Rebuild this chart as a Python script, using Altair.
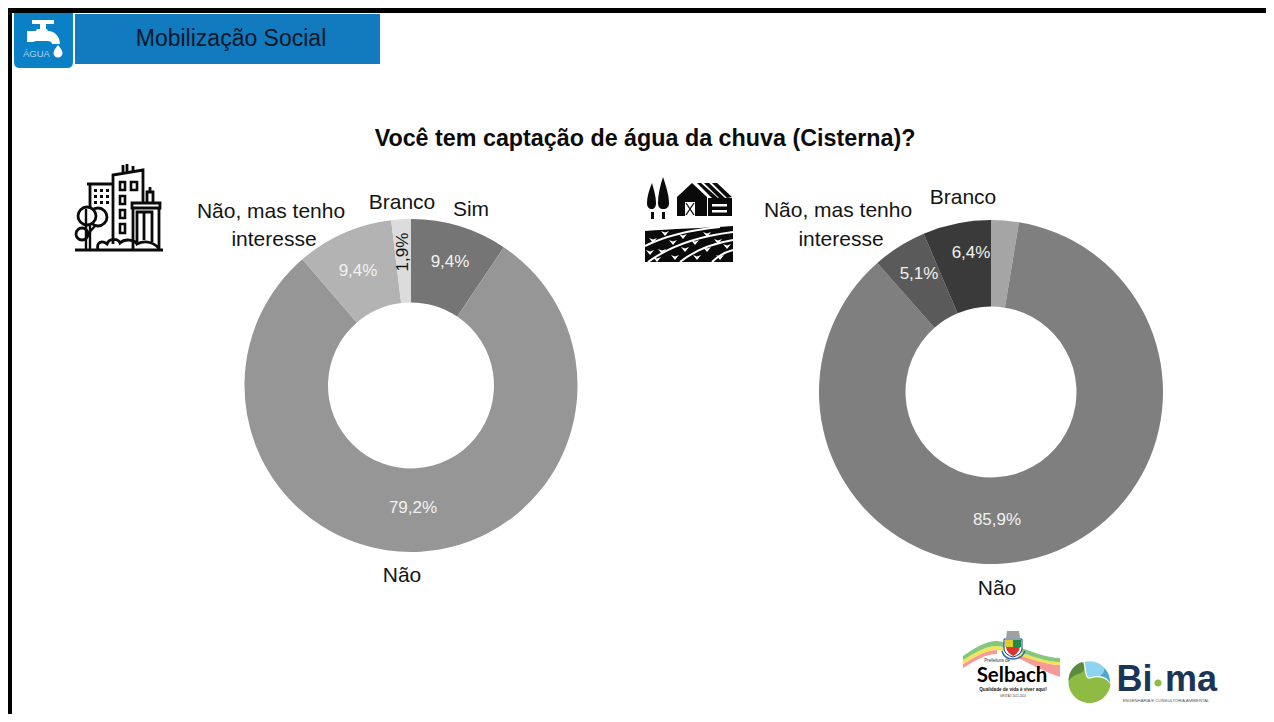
import altair as alt
import pandas as pd

# ---- data ----
CATEGORIES = ["Sim", "Não", "Não, mas tenho interesse", "Branco"]
URBAN_VALUES = [9.4, 79.2, 9.4, 1.9]
RURAL_VALUES = [2.6, 85.9, 5.1, 6.4]
URBAN_COLORS = ["#757575", "#969696", "#b3b3b3", "#dcdcdc"]
RURAL_COLORS = ["#a5a5a5", "#7f7f7f", "#5a5a5a", "#3a3a3a"]
TITLE = "Você tem captação de água da chuva (Cisterna)?"
HEADER = "Mobilização Social"
FONT = "Liberation Sans"
INK = "#141414"

ONE = alt.Data(values=[{"a": 1}])


def pct(v):
    return f"{v:.1f}%".replace(".", ",")


def shape(d, fill=None, stroke=None, sw=1.0):
    """Free-form drawing; path coordinates are page pixels."""
    kw = {"opacity": 1, "strokeWidth": sw, "strokeJoin": "miter"}
    kw["fill"] = fill if fill else "transparent"
    kw["stroke"] = stroke if stroke else "transparent"
    if not stroke:
        kw["strokeWidth"] = 0
    return alt.Chart(ONE).mark_point(shape=d, size=4, filled=True, **kw).encode(
        x=alt.value(-8), y=alt.value(-8)
    )


def label(text, x, y, size=21, color=INK, weight="normal", angle=0, font=FONT, style="normal"):
    return alt.Chart(ONE).mark_text(
        text=text, font=font, fontSize=size, color=color, fontWeight=weight,
        fontStyle=style, angle=angle, align="center", baseline="middle",
    ).encode(x=alt.value(x - 8), y=alt.value(y - 8))


def donut(values, colors, cx, cy, outer, inner):
    df = pd.DataFrame({"cat": CATEGORIES, "value": values, "fill": colors,
                       "order": list(range(len(values)))})
    return alt.Chart(df).mark_arc(outerRadius=outer, innerRadius=inner).encode(
        x=alt.value(cx - 8), y=alt.value(cy - 8),
        theta=alt.Theta("value:Q", stack="normalize"),
        color=alt.Color("fill:N", scale=None),
        order=alt.Order("order:Q"),
    )


def rects(boxes):
    return " ".join(f"M{a} {b}L{c} {b}L{c} {d}L{a} {d}Z" for a, b, c, d in boxes)


def circle(cx, cy, r):
    return f"M{cx-r} {cy}A{r} {r} 0 1 1 {cx+r} {cy}A{r} {r} 0 1 1 {cx-r} {cy}Z"


layers = []

# frame
layers.append(shape(rects([(8, 8, 1266, 13), (8, 8, 12, 714)]), fill="#000000"))

# header
layers.append(shape("M14 13L73 13L73 62Q73 68 67 68L20 68Q14 68 14 62Z", fill="#0a80c6"))
layers.append(shape(rects([(75, 14, 380, 64)]), fill="#127bbf"))
layers.append(label(HEADER, 231, 39, size=23, color="#07182a"))
layers.append(shape(
    rects([(32, 20, 54, 24), (40, 24, 46, 30)])
    + " M27 31L36 31L37 29L47 29L48 31C55 31 60 37 60 44L52 44C52 42 50 41 47 41L36 41L33 42L27 42Z"
    + " M58 45C60 48 62.5 50 62.5 53A4.5 4.5 0 0 1 53.5 53C53.5 50 56 48 58 45Z",
    fill="#ffffff"))
layers.append(label("ÁGUA", 36.5, 53.5, size=9.5, color="#a9d6f0"))

# title
layers.append(label(TITLE, 645, 139, size=23.3, weight="bold", color="#0c0c0c"))

# city icon
CITY = "#0a0a0a"
layers.append(shape(
    "M75 250L163 250 M87 184L113 184 M90 184L90 207 "
    "M113 244L113 175L143 170L143 202 M123 173L123 165 M127 172L127 164 M133 171L133 166 "
    "M133 208L133 250 M159 208L159 250 M132 203L160 203L160 208L132 208Z "
    "M137 242L137 212L152 212L152 242 M144 212L144 240 "
    "M147 202L147 192L153 192L153 202 M150 192L150 187 "
    "M98 250C96 242 102 240 107 244C109 238 118 238 120 243C125 238 135 240 137 244C145 240 155 242 160 250",
    stroke=CITY, sw=2.8))
layers.append(shape(
    rects([(120, 182, 125, 190), (131, 182, 137, 190), (120, 196, 125, 204),
           (120, 210, 125, 218), (120, 224, 125, 233)]),
    stroke=CITY, sw=2.6))
layers.append(shape(
    rects([(x, y, x + 3, y + 3) for x in (94, 100, 106) for y in (189, 195, 201)]),
    fill=CITY))
layers.append(shape(circle(98, 217, 9), fill="#ffffff", stroke=CITY, sw=2.8))
layers.append(shape(circle(87, 216, 9), fill="#ffffff", stroke=CITY, sw=2.8))
layers.append(shape(circle(82, 234, 6), fill="#ffffff", stroke=CITY, sw=2.8))
layers.append(shape("M86 209L86 250 M90 224L90 250 M86 236L95 226", stroke=CITY, sw=2.4))

# farm icon
layers.append(shape(
    "M652 183C649 190 647 197 647 203C647 207 649 209 652 209C654 209 656 207 656 203C656 197 654 190 652 183Z "
    "M663 177C660 186 658 195 658 203C658 207 660 209 663 209C667 209 669 207 669 203C669 195 666 186 663 177Z "
    + rects([(651, 212, 654, 219), (662, 212, 665, 219)])
    + " M677 197L692 183L707 197L707 216L677 216Z"
    + " M697 183L701 183L718 198L712 198Z M704 183L709 183L725 198L719 198Z"
    + " M712 183L717 183L732 197L727 198Z "
    + rects([(708, 198, 732, 216)]),
    fill="#0a0a0a"))
layers.append(shape(rects([(685, 202, 695, 216), (712, 204, 727, 206.5), (712, 210, 727, 212.5)]), fill="#ffffff"))
layers.append(shape("M686 203L694 215 M694 203L686 215", stroke="#0a0a0a", sw=1.3))
layers.append(shape("M645 231C670 229 705 228 733 226L733 262L645 262Z", fill="#0a0a0a"))
layers.append(shape(
    "M645 246C665 236 690 230 720 227 M648 262C670 246 700 236 733 232 "
    "M680 262C695 250 715 243 733 240 M712 262C718 256 725 252 733 250",
    stroke="#ffffff", sw=2))
HEART_SPOTS = [(653, 240), (665, 233), (683, 236), (707, 234), (673, 242), (695, 242), (718, 241),
               (662, 251), (685, 249), (707, 249), (727, 246), (650, 252), (675, 257), (697, 257),
               (720, 257), (657, 259)]
layers.append(shape(
    " ".join(f"M{x-4} {y-2}L{x} {y+3}L{x+4} {y-2}L{x} {y-0.5}Z" for x, y in HEART_SPOTS),
    fill="#ffffff"))

# donuts
layers.append(donut(URBAN_VALUES, URBAN_COLORS, 411, 385.5, 166.5, 83))
layers.append(donut(RURAL_VALUES, RURAL_COLORS, 991, 392, 172, 85.5))

# urban labels
PCT = "#f2f2f2"
layers += [
    label(pct(URBAN_VALUES[0]), 450, 262, size=17, color=PCT),
    label(pct(URBAN_VALUES[2]), 358, 271, size=17, color=PCT),
    label(pct(URBAN_VALUES[3]), 403, 252, size=17, color=INK, angle=270),
    label(pct(URBAN_VALUES[1]), 413, 508, size=17, color=PCT),
    label("Não, mas tenho", 271, 212),
    label("interesse", 274, 240),
    label("Branco", 402, 203),
    label("Sim", 471, 210),
    label("Não", 402, 576),
]
# rural labels
layers += [
    label(pct(RURAL_VALUES[2]), 919, 274, size=17, color=PCT),
    label(pct(RURAL_VALUES[3]), 971, 253, size=17, color=PCT),
    label(pct(RURAL_VALUES[1]), 997, 520, size=17, color=PCT),
    label("Não, mas tenho", 838, 211),
    label("interesse", 841, 240),
    label("Branco", 963, 198),
    label("Não", 997, 589),
]

# Selbach logo
layers += [
    shape("M1020 652C1035 658 1045 665 1060 665L1060 677C1045 672 1030 664 1018 658Z", fill="#f59a98"),
    shape("M963 664C975 657 985 650 997 650L997 654C985 654 975 661 963 668Z", fill="#f59a98"),
    shape("M963 660C975 653 985 646 997 646C1015 648 1040 662 1060 662L1060 665C1040 665 1015 652 997 650C985 650 975 657 963 664Z", fill="#f3e35a"),
    shape("M963 656C975 648 985 641 997 641C1015 643 1040 658 1060 658L1060 662C1040 662 1015 648 997 646C985 646 975 653 963 660Z", fill="#84c77d"),
    shape("M1007 631L1019 631L1020 638L1006 638Z", fill="#a0a0a0"),
    shape("M1004 639L1022 639L1022 649Q1021 655 1013 657Q1005 655 1004 649Z", fill="#ffffff", stroke="#1c3f7a", sw=1),
    shape(rects([(1005, 640, 1013, 647)]), fill="#e2cd2a"),
    shape(rects([(1013, 640, 1021, 647)]), fill="#1f8a4c"),
    shape("M1006 647L1020 647Q1019 653 1013 656Q1007 653 1006 647Z", fill="#d8342f"),
    shape("M1002 651Q1004 659 1013 659Q1022 659 1025 651", stroke="#2c6fb7", sw=1.5),
    label("Prefeitura de", 997, 661, size=4.5, color="#333333"),
    label("Selbach", 1012, 676, size=20.5, color="#000000", weight="bold", font="Lato"),
    label("Qualidade de vida é viver aqui!", 1013, 690, size=4.6, color="#222222", weight="bold"),
    label("GESTÃO 2021-2024", 1013, 695.5, size=2.8, color="#444444"),
]

# Bi-ma logo
layers += [
    shape(circle(1089.5, 682, 21), fill="#8ebb43"),
    shape("M1084 661.5A21 21 0 0 1 1110.5 683C1104 675 1096 676 1090 678C1085 679 1086 670 1084 661.5Z", fill="#8ed4f2", stroke="#ffffff", sw=1.2),
    shape("M1104 668A21 21 0 0 1 1110 683C1108 679 1105 676 1100 676C1103 674 1105 671 1104 668Z", fill="#4da7cd"),
    shape("M1068.5 681C1068.5 671 1075 664 1082 662C1085 665 1085 671 1081 673C1075 675 1071 677 1068.5 681Z", fill="#5c8a40"),
    label("Bi", 1134.5, 680, size=36, color="#1b3557", weight="bold"),
    shape(circle(1158, 683, 3.6), fill="#8ebb43"),
    label("ma", 1191, 680, size=36, color="#1b3557", weight="bold"),
    label("ENGENHARIA E CONSULTORIA AMBIENTAL", 1166, 701, size=4.2, color="#555555"),
]

chart = alt.layer(*layers).properties(
    width=1258, height=706, padding=0,
    autosize=alt.AutoSizeParams(type="none"),
).configure_view(stroke=None)

chart.save("out.html", embed_options={"renderer": "svg", "actions": False})
